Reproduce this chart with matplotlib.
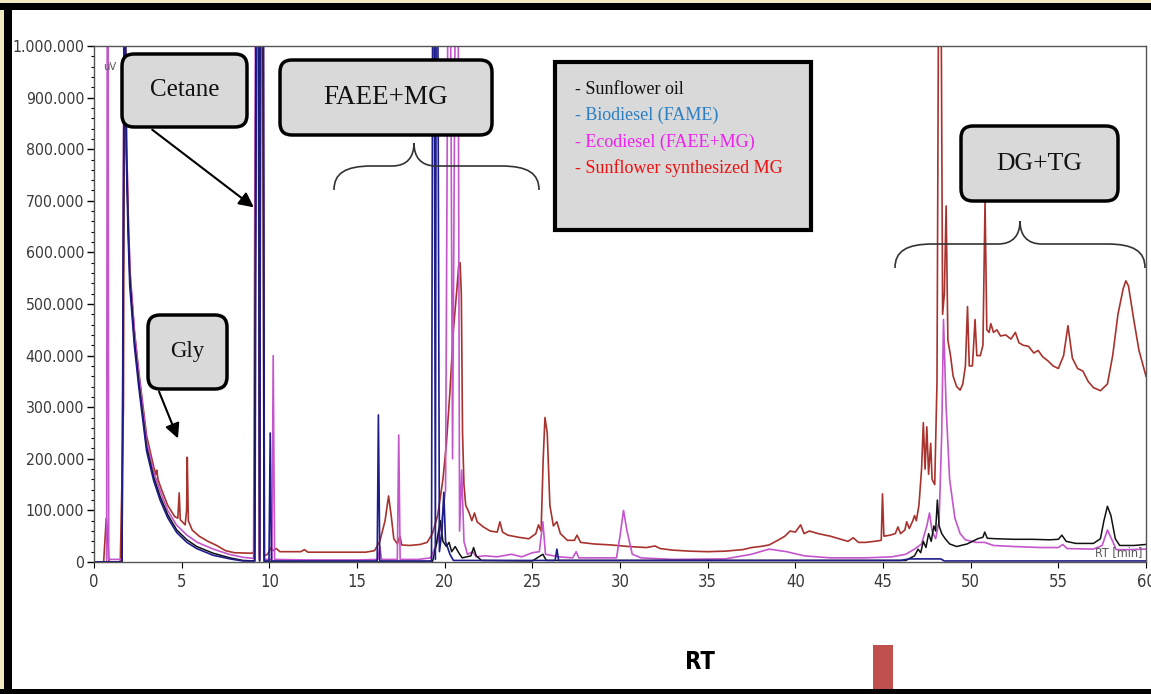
import numpy as np
import matplotlib.pyplot as plt
import matplotlib.transforms as mtransforms
from matplotlib.patches import FancyBboxPatch, Rectangle, FancyArrowPatch, PathPatch
from matplotlib.path import Path

# ----- Data (RT in min, signal in thousands of uV) -----
sunflower_oil = [
    (0, 0), (1.6, 0), (1.75, 1200), (1.85, 800), (1.95, 650), (2.05, 546), (2.3, 430),
    (2.55, 350), (3.0, 223), (3.4, 165), (3.77, 127), (4.2, 92), (4.72, 62), (5.3, 43),
    (5.86, 30), (6.8, 17), (7.76, 8), (8.5, 3), (9.15, 2), (9.25, 1200), (9.38, 1200),
    (9.44, 2), (9.5, 1200), (9.63, 1200), (9.7, 1), (12, 0), (19.3, 0), (19.5, 30),
    (19.75, 80), (19.9, 40), (20.1, 30), (20.25, 38), (20.4, 20), (20.6, 30), (20.8, 18),
    (21.0, 8), (21.5, 12), (21.65, 28), (21.8, 12), (22.1, 3), (25, 2), (25.6, 15),
    (25.8, 3), (46.3, 3), (46.8, 12), (47.0, 25), (47.15, 18), (47.3, 40), (47.45, 28),
    (47.6, 55), (47.75, 40), (47.9, 70), (48.0, 60), (48.1, 120), (48.2, 70), (48.35, 55),
    (48.55, 45), (48.8, 35), (49.2, 30), (49.8, 35), (50.4, 45), (50.7, 48), (50.8, 58),
    (50.95, 46), (51.5, 45), (52.5, 44), (53.5, 44), (54.5, 43), (55.0, 44), (55.2, 52),
    (55.45, 40), (56, 36), (57.0, 36), (57.4, 45), (57.6, 80), (57.8, 108), (58.0, 90),
    (58.25, 45), (58.5, 32), (59.3, 32), (60, 34),
]

biodiesel = [
    (0, 0), (1.6, 0), (1.74, 1200), (1.84, 790), (1.94, 640), (2.04, 535), (2.3, 420),
    (2.55, 340), (3.0, 215), (3.4, 158), (3.77, 120), (4.2, 86), (4.72, 57), (5.3, 38),
    (5.86, 26), (6.8, 13), (7.76, 6), (8.5, 2), (9.18, 2), (9.28, 1200), (9.4, 1200),
    (9.45, 2), (9.52, 1200), (9.66, 1200), (9.72, 2), (9.98, 2), (10.05, 250), (10.12, 2),
    (16.15, 2), (16.22, 285), (16.3, 2), (19.25, 2), (19.32, 1200), (19.4, 1200),
    (19.47, 5), (19.52, 1200), (19.6, 1200), (19.7, 20), (19.85, 60), (19.95, 135),
    (20.05, 40), (20.3, 15), (20.5, 3), (26.3, 3), (26.4, 25), (26.5, 3), (46, 3),
    (46.5, 6), (48.3, 6), (48.5, 2), (60, 2),
]

ecodiesel = [
    (0, 0), (0.72, 0), (0.76, 1200), (0.8, 1200), (0.84, 5), (1.6, 5), (1.72, 1200),
    (1.87, 800), (1.97, 650), (2.07, 550), (2.32, 440), (2.57, 360), (3.0, 235), (3.4, 175),
    (3.8, 135), (4.2, 100), (4.7, 72), (5.3, 52), (5.9, 38), (6.8, 25), (7.7, 15), (8.5, 9),
    (9.1, 7), (9.22, 1200), (9.38, 1200), (9.44, 5), (9.48, 1200), (9.65, 1200), (9.72, 5),
    (10.15, 5), (10.22, 400), (10.3, 5), (12, 4), (15, 4), (16.2, 5), (16.3, 30), (16.4, 5),
    (17.3, 5), (17.38, 246), (17.46, 5), (18.5, 5), (19.2, 8), (19.35, 20), (19.6, 40),
    (19.85, 85), (20.05, 140), (20.2, 1200), (20.32, 1200), (20.45, 200), (20.62, 1200),
    (20.76, 1200), (20.85, 60), (20.97, 178), (21.1, 40), (21.3, 15), (21.6, 20), (21.8, 10),
    (22.3, 12), (23, 10), (23.8, 15), (24.4, 10), (25.0, 18), (25.4, 20), (25.6, 78),
    (25.75, 15), (26.5, 10), (27.3, 8), (27.5, 20), (27.65, 8), (29.8, 8), (30.0, 50),
    (30.2, 100), (30.4, 60), (30.7, 15), (31.2, 8), (33, 5), (36, 6), (37.5, 15), (38.5, 25),
    (39.5, 20), (40.5, 12), (42, 8), (44, 8), (45.5, 10), (46.3, 15), (46.8, 25), (47.2, 35),
    (47.5, 70), (47.65, 95), (47.8, 60), (48.0, 45), (48.2, 80), (48.35, 250), (48.45, 470),
    (48.6, 300), (48.8, 160), (49.1, 85), (49.4, 55), (49.7, 43), (50.3, 38), (50.8, 38),
    (51.3, 32), (52.5, 30), (54, 28), (55.0, 28), (55.25, 34), (55.5, 26), (57.0, 25),
    (57.5, 32), (57.8, 62), (58.1, 40), (58.3, 24), (59.0, 24), (60, 25),
]

synthesized_mg = [
    (0, 0), (0.55, 0), (0.62, 40), (0.7, 85), (0.76, 60), (0.85, 0), (1.5, 0), (1.68, 300),
    (1.75, 1200), (1.85, 820), (1.95, 670), (2.05, 565), (2.3, 450), (2.55, 370), (3.0, 245),
    (3.4, 185), (3.52, 170), (3.58, 178), (3.65, 160), (3.8, 145), (4.2, 110), (4.6, 88),
    (4.78, 85), (4.86, 134), (4.92, 82), (5.2, 72), (5.28, 100), (5.32, 203), (5.38, 80),
    (5.6, 62), (6.0, 50), (6.5, 40), (7.0, 32), (7.5, 22), (8.0, 18), (9.0, 17), (9.15, 20),
    (9.25, 1200), (9.35, 1200), (9.45, 15), (9.5, 1200), (9.62, 1200), (9.7, 12), (9.9, 15),
    (10.1, 28), (10.2, 22), (10.4, 26), (10.6, 20), (11.8, 20), (12, 24), (12.2, 19),
    (14, 19), (15.5, 19), (16.0, 22), (16.3, 40), (16.6, 80), (16.8, 128), (16.95, 90),
    (17.1, 45), (17.3, 35), (17.45, 50), (17.55, 33), (18.0, 32), (18.6, 34), (19.0, 38),
    (19.3, 55), (19.6, 90), (19.9, 160), (20.1, 230), (20.3, 330), (20.5, 450), (20.7, 530),
    (20.8, 575), (20.88, 580), (20.95, 520), (21.02, 250), (21.1, 150), (21.2, 110),
    (21.4, 95), (21.55, 80), (21.7, 95), (21.85, 78), (22.2, 68), (22.6, 60), (23.0, 58),
    (23.15, 78), (23.3, 58), (23.6, 52), (24.2, 48), (24.8, 45), (25.2, 55), (25.35, 72),
    (25.5, 60), (25.62, 200), (25.72, 280), (25.85, 250), (26.0, 110), (26.2, 70),
    (26.4, 78), (26.6, 55), (27.0, 42), (27.4, 42), (27.55, 52), (27.75, 38), (28.5, 35),
    (29.5, 33), (30.5, 30), (31.5, 28), (32.0, 31), (32.3, 26), (33, 23), (34, 21), (35, 20),
    (36, 21), (37, 24), (37.5, 28), (38, 30), (38.5, 33), (39, 42), (39.4, 50), (39.7, 60),
    (40.0, 58), (40.3, 72), (40.5, 55), (40.8, 60), (41.3, 55), (42, 50), (42.5, 45),
    (43, 40), (43.3, 47), (43.6, 38), (44, 38), (44.5, 40), (44.9, 42), (44.97, 132),
    (45.05, 50), (45.4, 52), (45.7, 55), (45.85, 68), (46.0, 55), (46.25, 62), (46.35, 78),
    (46.5, 65), (46.7, 80), (46.8, 90), (46.9, 80), (47.05, 110), (47.2, 180), (47.3, 270),
    (47.4, 180), (47.5, 262), (47.6, 170), (47.72, 230), (47.8, 160), (47.95, 150),
    (48.08, 350), (48.18, 1200), (48.3, 1200), (48.4, 480), (48.5, 520), (48.6, 690),
    (48.7, 430), (48.85, 400), (49.0, 360), (49.2, 340), (49.4, 333), (49.55, 345),
    (49.7, 380), (49.82, 495), (49.92, 380), (50.1, 380), (50.25, 470), (50.35, 400),
    (50.55, 400), (50.7, 420), (50.82, 700), (50.92, 450), (51.05, 445), (51.15, 462),
    (51.3, 445), (51.5, 450), (51.7, 438), (52.0, 440), (52.3, 432), (52.55, 445),
    (52.75, 425), (53.0, 420), (53.3, 418), (53.6, 405), (53.85, 410), (54.1, 398),
    (54.4, 390), (54.7, 380), (55.0, 375), (55.3, 400), (55.55, 458), (55.8, 395),
    (56.1, 375), (56.4, 370), (56.7, 350), (57.0, 338), (57.4, 332), (57.8, 345),
    (58.1, 400), (58.4, 480), (58.7, 530), (58.85, 545), (59.0, 535), (59.3, 470),
    (59.6, 410), (60.0, 360),
]

legend_labels = ["- Sunflower oil", "- Biodiesel (FAME)", "- Ecodiesel (FAEE+MG)",
                 "- Sunflower synthesized MG"]
legend_colors = ["#111111", "#2a7fc4", "#ee22ee", "#ee1111"]

y_ticks = [0, 100, 200, 300, 400, 500, 600, 700, 800, 900, 1000]
y_ticklabels = ["0", "100.000", "200.000", "300.000", "400.000", "500.000",
                "600.000", "700.000", "800.000", "900.000", "1.000.000"]
x_ticks = list(range(0, 61, 5))

# ----- Figure -----
W, H = 1151, 694
fig = plt.figure(figsize=(W / 100, H / 100), dpi=100)
pix = mtransforms.Affine2D().scale(0.01, -0.01).translate(0, H / 100) + fig.dpi_scale_trans

ax = fig.add_axes([94 / W, 1 - 562 / H, (1146 - 94) / W, (562 - 46) / H])

narrow = dict(family="DejaVu Sans", fontstretch="condensed")
serif = ["Liberation Serif", "DejaVu Serif"]

series = [
    (synthesized_mg, "#a8322d", 1.2),
    (ecodiesel, "#c455cc", 1.2),
    (sunflower_oil, "#111111", 1.1),
    (biodiesel, "#1c1c8a", 1.2),
]
for data, color, lw in series:
    arr = np.array(data)
    ax.plot(arr[:, 0], arr[:, 1], color=color, lw=lw)

ax.set_xlim(0, 60)
ax.set_ylim(0, 1000)
ax.set_yticks(y_ticks)
ax.set_yticklabels(y_ticklabels, fontsize=11.3, color="#3a3a3a", **narrow)
ax.set_yticks(np.arange(0, 1001, 20), minor=True)
ax.set_xticks(x_ticks)
ax.set_xticklabels([str(v) for v in x_ticks], fontsize=12, color="#3a3a3a", **narrow)
ax.tick_params(axis="y", which="major", length=5, width=1, pad=2)
ax.tick_params(axis="y", which="minor", length=2.5, width=0.8)
ax.tick_params(axis="x", which="major", length=4, width=0.8, pad=4)
for s in ax.spines.values():
    s.set_color("#555555")
    s.set_linewidth(1.0)

ax.text(0.5, 960, "uV", fontsize=8, color="#555555", va="center", **narrow)
ax.text(59.8, 18, "RT [min]", fontsize=9, color="#555555", ha="right", va="center", **narrow)


# ----- Annotations (pixel coordinates from top-left) -----
def box(x0, y0, x1, y1, label, size):
    p = FancyBboxPatch((x0, y0), x1 - x0, y1 - y0,
                       boxstyle="round,pad=0,rounding_size=12",
                       transform=pix, fc="#d9d9d9", ec="black", lw=2.5, zorder=5)
    fig.add_artist(p)
    fig.text((x0 + x1) / 2, (y0 + y1) / 2, label, transform=pix, ha="center", va="center",
             fontsize=size, family=serif, color="#111111", zorder=6)


def brace(x0, x1, xc, y_end, y_mid, y_tip, r=38, r2=22):
    verts = [(x0, y_end),
             (x0, y_end - 0.7 * (y_end - y_mid)), (x0 + 0.3 * r, y_mid), (x0 + r, y_mid),
             (xc - r2, y_mid),
             (xc - 0.3 * r2, y_mid), (xc, y_mid - 0.4 * (y_mid - y_tip)), (xc, y_tip),
             (xc, y_mid - 0.4 * (y_mid - y_tip)), (xc + 0.3 * r2, y_mid), (xc + r2, y_mid),
             (x1 - r, y_mid),
             (x1 - 0.3 * r, y_mid), (x1, y_end - 0.7 * (y_end - y_mid)), (x1, y_end)]
    codes = [Path.MOVETO, Path.CURVE4, Path.CURVE4, Path.CURVE4, Path.LINETO,
             Path.CURVE4, Path.CURVE4, Path.CURVE4, Path.CURVE4, Path.CURVE4, Path.CURVE4,
             Path.LINETO, Path.CURVE4, Path.CURVE4, Path.CURVE4]
    fig.add_artist(PathPatch(Path(verts, codes), transform=pix, fc="none",
                             ec="#333333", lw=1.2, zorder=4))


def arrow(xa, ya, xb, yb):
    fig.add_artist(FancyArrowPatch((xa, ya), (xb, yb), transform=pix,
                                   arrowstyle="-|>", mutation_scale=22, lw=1.5,
                                   color="black", zorder=4))


box(122, 54, 247, 127, "Cetane", 18)
arrow(150, 128, 256, 209)
box(280, 60, 492, 135, "FAEE+MG", 19.5)
brace(334, 539, 414, 190, 166, 143)
box(148, 315, 227, 389, "Gly", 16.5)
arrow(158, 389, 179, 441)
box(961, 126, 1118, 201, "DG+TG", 18.5)
brace(895, 1145, 1020, 268, 244, 221)

# legend box
fig.add_artist(Rectangle((555, 62), 256, 168, transform=pix, fc="#d9d9d9",
                         ec="black", lw=3, zorder=5))
for i, (lab, col) in enumerate(zip(legend_labels, legend_colors)):
    fig.text(575, 89 + i * 26.5, lab, transform=pix, fontsize=13, family=serif,
             color=col, va="center", ha="left", zorder=6)

# bottom label and marker
fig.text(700, 662, "RT", transform=pix, fontsize=17, fontweight="bold",
         ha="center", va="center", **narrow)
fig.add_artist(Rectangle((873, 645), 20, 45, transform=pix, fc="#c0504d", ec="none"))

# picture frame
fig.add_artist(Rectangle((0, 0), W, 3, transform=pix, fc="#f1e9bf", ec="none"))
fig.add_artist(Rectangle((0, 0), 4, H, transform=pix, fc="#f1e9bf", ec="none"))
fig.add_artist(Rectangle((0, 3), W, 7, transform=pix, fc="black", ec="none"))
fig.add_artist(Rectangle((4, 3), 8, H, transform=pix, fc="black", ec="none"))
fig.add_artist(Rectangle((0, 689), W, 5, transform=pix, fc="black", ec="none"))

fig.savefig("out.png", dpi=100)
